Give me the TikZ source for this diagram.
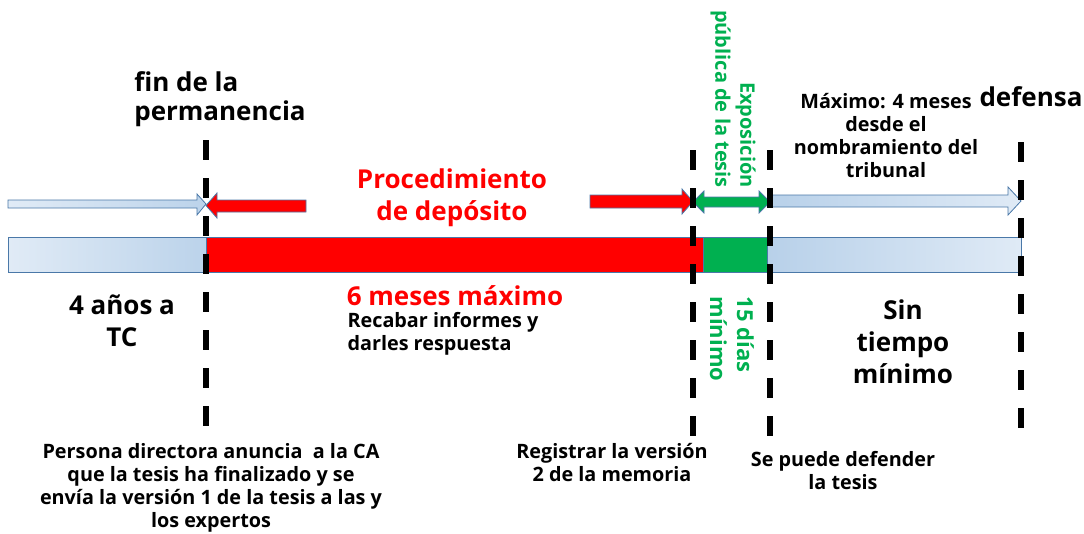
\documentclass[tikz,border=0pt]{standalone}
\usepackage{fontspec}
\setmainfont{Open Sans}
\definecolor{pgreen}{HTML}{00B050}
\definecolor{pred}{HTML}{FF0000}
\definecolor{edgeblue}{HTML}{4A78A8}
\definecolor{lblue}{HTML}{B4CEE8}
\definecolor{wblue}{HTML}{F3F7FC}
\pgfdeclarehorizontalshading{barL}{100bp}{color(0bp)=(wblue); color(85bp)=(lblue); color(100bp)=(lblue!80!white)}
\pgfdeclarehorizontalshading{barR}{100bp}{color(0bp)=(lblue!85!white); color(20bp)=(lblue); color(100bp)=(wblue)}
\tikzset{
  dline/.style={line width=6pt, black, dash pattern=on 20pt off 18pt},
  lbl/.style={inner sep=0pt, font=\bfseries\fontsize{26}{32}\selectfont},
  sml/.style={inner sep=0pt, font=\bfseries\fontsize{19.8}{23}\selectfont},
  garrow/.style={draw=edgeblue, line width=0.8pt},
}
\begin{document}
\begin{tikzpicture}[x=1pt,y=-1pt]
\useasboundingbox (0,0) rectangle (1084,533);
% bottom bar
\fill[pred] (206,237) rectangle (703,272);
\fill[pgreen] (703,237) rectangle (767,272);
\draw[edgeblue, line width=0.8pt] (703,237) rectangle (767,272);
\draw[edgeblue, line width=0.8pt] (206,237) -- (703,237);
\draw[edgeblue, line width=0.8pt] (206,272) -- (703,272);
\draw[edgeblue, line width=0.8pt, shading=barL] (8,237) rectangle (206,272);
\draw[edgeblue, line width=0.8pt, shading=barR] (767,237) rectangle (1021,272);
% arrows
\draw[garrow, shading=barL] (8,200) -- (197,200) -- (197,194) -- (206,204) -- (197,215) -- (197,208) -- (8,208) -- cycle;
\draw[garrow, fill=pred] (306,200) -- (217,200) -- (217,193) -- (206,205.5) -- (217,218) -- (217,212) -- (306,212) -- cycle;
\draw[garrow, fill=pred] (590,195) -- (682,195) -- (682,189) -- (693,201.5) -- (682,214) -- (682,208) -- (590,208) -- cycle;
\draw[garrow, fill=pgreen] (693,202) -- (704,191) -- (704,197) -- (759,197) -- (759,191) -- (770,202) -- (759,213) -- (759,207) -- (704,207) -- (704,213) -- cycle;
\draw[garrow, shading=barR] (770,195) -- (1008,195) -- (1008,187) -- (1021,201) -- (1008,215) -- (1008,207) -- (770,207) -- cycle;
% dashed markers
\coordinate (a1) at (206,140); \coordinate (a2) at (206,432);
\coordinate (b1) at (693,150); \coordinate (b2) at (693,437);
\coordinate (c1) at (770,150); \coordinate (c2) at (770,436);
\coordinate (d1) at (1021,142); \coordinate (d2) at (1021,431);
\draw[dline] (a1) -- (a2);
\draw[dline] (b1) -- (b2);
\draw[dline] (c1) -- (c2);
\draw[dline] (d1) -- (d2);
% texts
\node[lbl, align=left, font=\bfseries\fontsize{26}{29}\selectfont] (fin) at (220,99) {fin de la\\permanencia};
\node[lbl, align=center, pred] (proc) at (452,198) {Procedimiento\\de depósito};
\node[lbl, align=right, pgreen, rotate=-90, font=\bfseries\fontsize{20}{25}\selectfont] (expo) at (733,99) {Exposición\\pública de la tesis};
\node[sml, align=center] (max) at (886,136) {Máximo: 4 meses\\desde el\\nombramiento del\\tribunal};
\node[lbl] (def) at (1031,97) {defensa};
\node[lbl, align=center] (anos) at (122,321) {4 años a\\TC};
\node[lbl, pred] (seis) at (455,296) {6 meses máximo};
\node[sml, align=left] (recab) at (443,334) {Recabar informes y\\darles respuesta};
\node[lbl, align=left, pgreen, rotate=-90, font=\bfseries\fontsize{22}{27}\selectfont] (quince) at (732,339) {15 días\\mínimo};
\node[lbl, align=center] (sin) at (903,342) {Sin\\tiempo\\mínimo};
\node[sml, align=center] (pers) at (211,488) {Persona directora anuncia\ \ a la CA\\que la tesis ha finalizado y se\\envía la versión 1 de la tesis a las y\\los expertos};
\node[sml, align=center] (reg) at (612,463) {Registrar la versión\\2 de la memoria};
\node[sml, align=center] (se) at (843,471) {Se puede defender\\la tesis};
\end{tikzpicture}
\end{document}
